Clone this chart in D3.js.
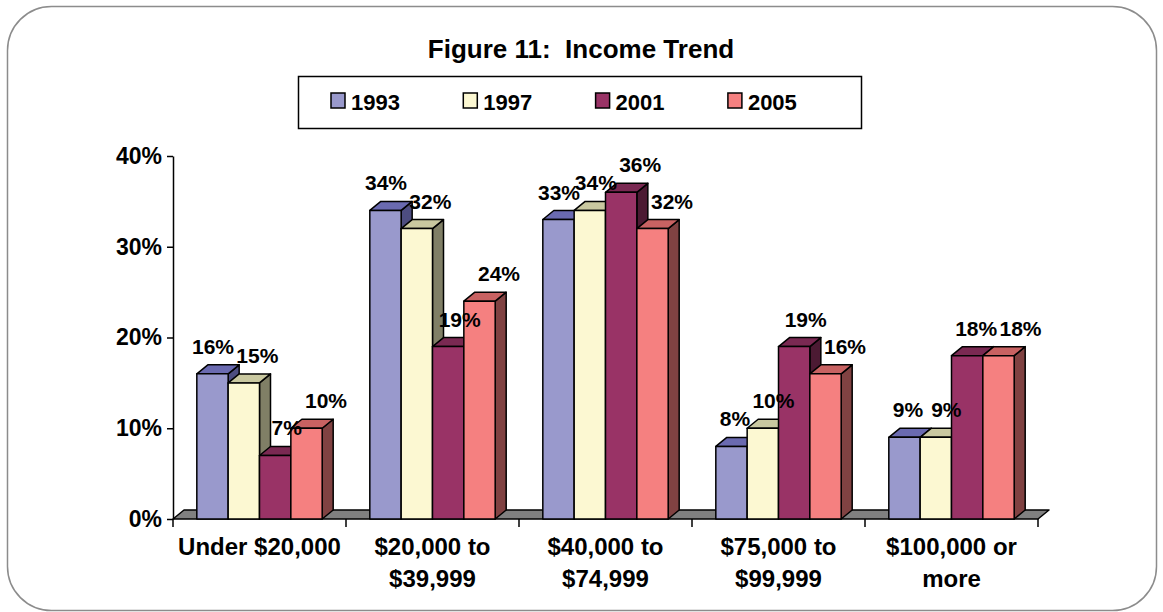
<!DOCTYPE html>
<html>
<head>
<meta charset="utf-8">
<script src="https://cdn.jsdelivr.net/npm/d3@7"></script>
<style>
  body { margin: 0; background: #fff; }
  text { font-family: Arial, "Liberation Sans", sans-serif; font-weight: bold; fill: #000; white-space: pre; }
</style>
</head>
<body>
<svg id="chart" width="1163" height="612"></svg>
<script>
// chart data
var categories = [ "Under $20,000", "$20,000 to\n$39,999", "$40,000 to\n$74,999", "$75,000 to\n$99,999", "$100,000 or\nmore" ];
var years = [ "1993", "1997", "2001", "2005" ];
var v1993 = [ 16, 34, 33, 8, 9 ];
var v1997 = [ 15, 32, 34, 10, 9 ];
var v2001 = [ 7, 19, 36, 19, 18 ];
var v2005 = [ 10, 24, 32, 16, 18 ];
var yTicks = [ 0, 10, 20, 30, 40 ];

var series = [ v1993, v1997, v2001, v2005 ];

// front, top, side shades per year
var colors = [
  { front: "#9999cc", top: "#6a6ab0", side: "#4d4d80" },
  { front: "#fcf8d2", top: "#c9c8a0", side: "#807f66" },
  { front: "#993366", top: "#7a2952", side: "#4c1a33" },
  { front: "#f58080", top: "#c86262", side: "#804242" }
];

var dx = 11, dy = 9;  // 3d depth offset
var labelShift = [ -2, 5, 6, 14 ];  // label drift per series, like the 3d view

var svg = d3.select( "#chart" );

// outer rounded frame
svg.append( "rect" )
  .attr( "x", 7.5 ).attr( "y", 6.5 )
  .attr( "width", 1149 ).attr( "height", 604 )
  .attr( "rx", 44 ).attr( "ry", 44 )
  .attr( "style", "fill:#ffffff;stroke:#8c8c8c;stroke-width:1.5;" );

svg.append( "text" )
  .text( "Figure 11:  Income Trend" )
  .attr( "x", 581 ).attr( "y", 58 )
  .style( "font-size", "26px" )
  .style( "text-anchor", "middle" );

// legend
var legend = svg.append( "g" );
legend.append( "rect" )
  .attr( "x", 298.5 ).attr( "y", 76.5 )
  .attr( "width", 563 ).attr( "height", 52 )
  .attr( "style", "fill:#ffffff;stroke:#000000;stroke-width:1.5;" );
var li = legend.selectAll( "g.item" ).data( years ).enter()
  .append( "g" )
  .attr( "transform", function( d, i ) { return "translate(" + ( 331 + i * 132.3 ) + ",93)"; } );
li.append( "rect" )
  .attr( "width", 14 ).attr( "height", 15 )
  .attr( "fill", function( d, i ) { return colors[i].front; } )
  .attr( "stroke", "#000" ).attr( "stroke-width", 1.5 );
li.append( "text" )
  .text( function( d ) { return d; } )
  .attr( "x", 20 ).attr( "y", 16.5 )
  .style( "font-size", "22px" );

// scales
var x0 = d3.scaleBand().domain( categories ).range( [ 173, 1038 ] );
var x1 = d3.scaleBand().domain( years ).range( [ 0, x0.bandwidth() ] ).paddingOuter( 0.76 );
var y = d3.scaleLinear().domain( [ 0, 40 ] ).range( [ 519, 156 ] );

// floor
var f0 = x0.range()[0], f1 = x0.range()[1], fy = y( 0 );
svg.append( "path" )
  .attr( "d", "M" + f0 + "," + fy + " L" + f1 + "," + fy + " L" + ( f1 + dx ) + "," + ( fy - dy ) +
              " L" + ( f0 + dx ) + "," + ( fy - dy ) + " Z" )
  .attr( "style", "fill:#808080;stroke:#000000;stroke-width:1.5;stroke-linejoin:round;" );

// category ticks below the floor
svg.append( "g" ).selectAll( "line" )
  .data( d3.range( categories.length + 1 ) ).enter()
  .append( "line" )
  .attr( "x1", function( i ) { return f0 + i * x0.step(); } )
  .attr( "x2", function( i ) { return f0 + i * x0.step(); } )
  .attr( "y1", fy ).attr( "y2", fy + 8 )
  .attr( "stroke", "#000" ).attr( "stroke-width", 1.5 );

// y axis
var yAxis = svg.append( "g" )
  .attr( "transform", "translate(173,0)" )
  .call( d3.axisLeft( y ).tickValues( yTicks ).tickSize( 6 ).tickSizeOuter( 0 ).tickPadding( 5 )
         .tickFormat( function( d ) { return d + "%"; } ) );
yAxis.select( ".domain" ).attr( "stroke-width", 1.5 );
yAxis.selectAll( ".tick line" ).attr( "stroke-width", 1.5 );
yAxis.selectAll( "text" )
  .style( "font-size", "23px" )
  .style( "font-family", "Arial, 'Liberation Sans', sans-serif" )
  .style( "font-weight", "bold" );

// bars
var bars = [];
categories.forEach( function( c, ci ) {
  years.forEach( function( yr, si ) {
    bars.push( { cat: c, ci: ci, year: yr, si: si, value: series[si][ci] } );
  } );
} );

var bg = svg.append( "g" ).selectAll( "g.bar" ).data( bars ).enter()
  .append( "g" )
  .attr( "class", "bar" );

var stroke = "stroke:#000000;stroke-width:1.5;stroke-linejoin:round;";

bg.each( function( d ) {
  var g = d3.select( this );
  var xl = x0( d.cat ) + x1( d.year ), w = x1.bandwidth();
  var xr = xl + w, yt = y( d.value ), yb = y( 0 );
  // side
  g.append( "path" )
    .attr( "d", "M" + xr + "," + yb + " L" + xr + "," + yt + " L" + ( xr + dx ) + "," + ( yt - dy ) +
                " L" + ( xr + dx ) + "," + ( yb - dy ) + " Z" )
    .attr( "style", "fill:" + colors[d.si].side + ";" + stroke );
  // top
  g.append( "path" )
    .attr( "d", "M" + xl + "," + yt + " L" + xr + "," + yt + " L" + ( xr + dx ) + "," + ( yt - dy ) +
                " L" + ( xl + dx ) + "," + ( yt - dy ) + " Z" )
    .attr( "style", "fill:" + colors[d.si].top + ";" + stroke );
  // front
  g.append( "rect" )
    .attr( "x", xl ).attr( "y", yt )
    .attr( "width", w ).attr( "height", yb - yt )
    .attr( "style", "fill:" + colors[d.si].front + ";" + stroke );
} );

// value labels
var vl = svg.append( "g" ).selectAll( "text" ).data( bars ).enter()
  .append( "text" )
  .text( function( d ) { return d.value + "%"; } )
  .attr( "x", function( d ) { return x0( d.cat ) + x1( d.year ) + x1.bandwidth() / 2 + dx / 2 + labelShift[d.si]; } )
  .attr( "y", function( d ) { return y( d.value ) - dy - 11; } )
  .style( "font-size", "21px" )
  .style( "text-anchor", "middle" );

// push apart neighbouring labels that collide
var nodes = vl.nodes();
for ( var k = 1; k < nodes.length; k++ ) {
  var a = nodes[k - 1], b = nodes[k];
  if ( a.__data__.ci != b.__data__.ci ) continue;
  var ba = a.getBBox(), bb = b.getBBox();
  var vOver = ba.y < bb.y + bb.height && bb.y < ba.y + ba.height;
  var hOver = ba.x + ba.width + 2 - bb.x;
  if ( vOver && hOver > 0 ) {
    a.setAttribute( "x", +a.getAttribute( "x" ) - hOver / 2 );
    b.setAttribute( "x", +b.getAttribute( "x" ) + hOver / 2 );
  }
}

// category labels
var cl = svg.append( "g" ).selectAll( "text" ).data( categories ).enter()
  .append( "text" )
  .attr( "x", function( d ) { return x0( d ) + x0.bandwidth() / 2; } )
  .attr( "y", 555 )
  .style( "font-size", "24px" )
  .style( "text-anchor", "middle" );
cl.selectAll( "tspan" )
  .data( function( d ) { return d.split( "\n" ); } ).enter()
  .append( "tspan" )
  .attr( "x", function() { return d3.select( this.parentNode ).attr( "x" ); } )
  .attr( "dy", function( d, i ) { return i ? 31.5 : 0; } )
  .text( function( d ) { return d; } );
</script>
</body>
</html>
